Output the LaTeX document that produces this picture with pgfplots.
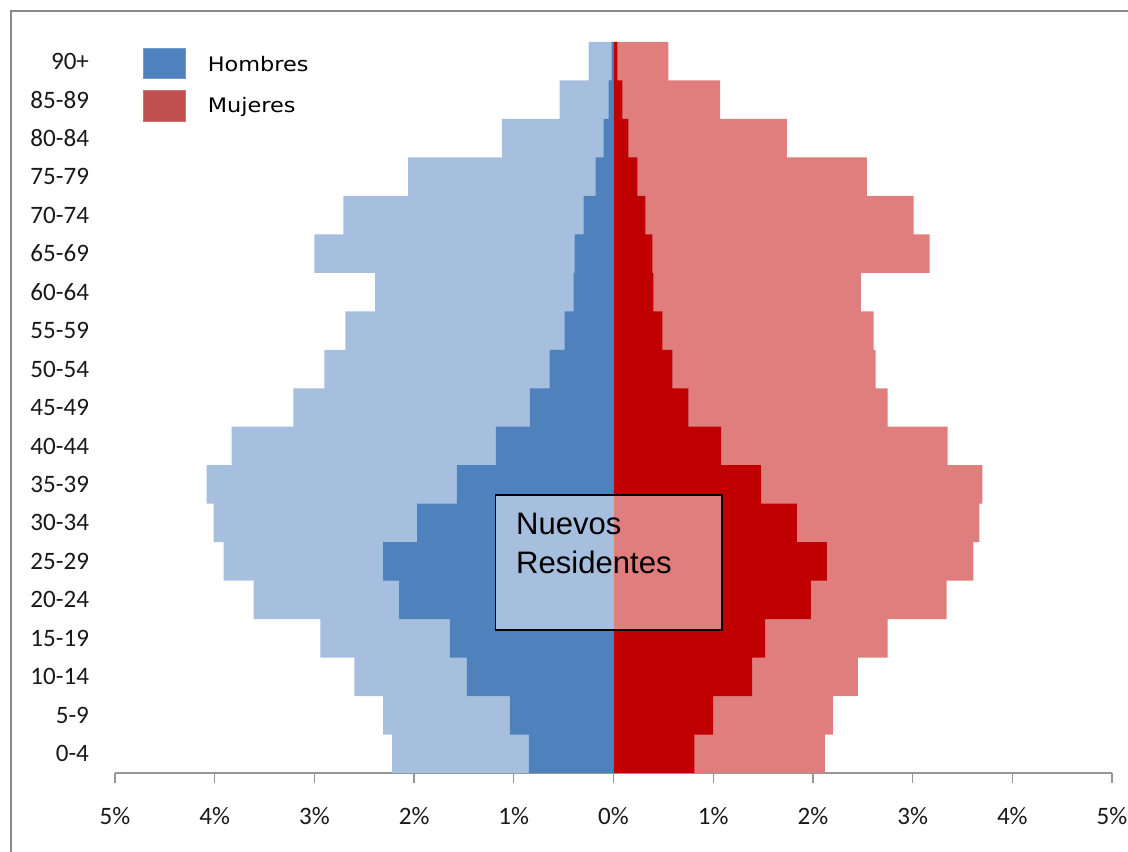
\documentclass[border=0pt]{standalone}
\usepackage{fontspec}
\setmainfont{Carlito}
\newfontfamily\legfont{DejaVu Sans}
\newfontfamily\arialfont{Liberation Sans}
\usepackage{pgfplots}
\pgfplotsset{compat=1.18}
\usepackage{pgfplotstable}
\definecolor{lblue}{RGB}{167,191,222}
\definecolor{dblue}{RGB}{79,129,189}
\definecolor{lred}{RGB}{224,126,126}
\definecolor{dred}{RGB}{192,0,0}
\definecolor{legblue}{RGB}{79,129,189}
\definecolor{legred}{RGB}{192,80,77}
\definecolor{framegray}{RGB}{138,138,138}
\definecolor{axisgray}{RGB}{150,150,150}

\pgfplotstableread{
idx mt    wt   mn    wn
0  -2.22 2.12 -0.85 0.81
1  -2.31 2.20 -1.04 1.00
2  -2.60 2.45 -1.47 1.39
3  -2.94 2.75 -1.64 1.52
4  -3.61 3.34 -2.15 1.98
5  -3.91 3.61 -2.31 2.14
6  -4.01 3.67 -1.97 1.84
7  -4.08 3.70 -1.57 1.48
8  -3.83 3.35 -1.18 1.08
9  -3.21 2.75 -0.84 0.75
10 -2.90 2.63 -0.64 0.59
11 -2.69 2.61 -0.49 0.49
12 -2.39 2.48 -0.40 0.40
13 -3.00 3.17 -0.39 0.39
14 -2.71 3.01 -0.30 0.32
15 -2.06 2.54 -0.18 0.24
16 -1.12 1.74 -0.10 0.15
17 -0.54 1.07 -0.05 0.09
18 -0.25 0.55 -0.02 0.04
}\pyr

\begin{document}
\begin{tikzpicture}[x=1pt,y=1pt]
\useasboundingbox (-86.25,-59.25) rectangle (759.75,579.75);
\draw[framegray, line width=1.5pt] (-78,-80) -- (-78,571.5) -- (800,571.5);
\begin{axis}[
  at={(0pt,0pt)}, anchor=south west,
  scale only axis, width=747.75pt, height=548.25pt,
  xmin=-5, xmax=5, ymin=-0.5, ymax=18.5,
  axis x line*=bottom, axis y line*=left,
  y axis line style={draw=none},
  x axis line style={axisgray, line width=1pt, -},
  ytick={0,...,18},
  yticklabels={0-4,5-9,10-14,15-19,20-24,25-29,30-34,35-39,40-44,45-49,50-54,55-59,60-64,65-69,70-74,75-79,80-84,85-89,90+},
  ytick style={draw=none},
  xtick={-5,...,5},
  xticklabels={5\%,4\%,3\%,2\%,1\%,0\%,1\%,2\%,3\%,4\%,5\%},
  xtick style={axisgray, line width=1pt},
  tick align=outside, major tick length=7.5pt,
  tick label style={font=\fontsize{18.8}{22}\selectfont, text=black!90},
  yticklabel style={xshift=-8.5pt},
  xticklabel style={yshift=-15pt},
  legend image code/.code={\draw[#1] (0pt,-11.6pt) rectangle (31.5pt,11.6pt);},
  legend style={at={(0.0281,0.9928)}, anchor=north west, draw=none, fill=none,
    inner sep=0pt, row sep=8.25pt, column sep=0pt,
    nodes={inner sep=0pt},
    font=\legfont\fontsize{15}{17}\selectfont},
  legend cell align=left,
]
\addplot[xbar, bar width=1, bar shift=0pt, fill=lblue, draw=none, forget plot] table[x=mt,y=idx]{\pyr};
\addplot[xbar, bar width=1, bar shift=0pt, fill=lred, draw=none, forget plot] table[x=wt,y=idx]{\pyr};
\addplot[xbar, bar width=1, bar shift=0pt, fill=dblue, draw=none, forget plot] table[x=mn,y=idx]{\pyr};
\addplot[xbar, bar width=1, bar shift=0pt, fill=dred, draw=none, forget plot] table[x=wn,y=idx]{\pyr};
\addlegendimage{fill=legblue, draw=legblue!80!white}
\addlegendentry{\hspace{16.5pt}\raisebox{-2.5pt}{\scalebox{1.12}[1]{Hombres}}}
\addlegendimage{fill=legred, draw=legred!80!white}
\addlegendentry{\hspace{16.5pt}\scalebox{1.12}[1]{Mujeres}}
\fill[lblue] (axis cs:-1.184,3.217) rectangle (axis cs:0,6.734);
\fill[lred] (axis cs:0,3.217) rectangle (axis cs:1.087,6.734);
\draw[black, line width=1.3pt] (axis cs:-1.184,3.217) rectangle (axis cs:1.087,6.734);
\node[anchor=base west, inner sep=0pt, font=\arialfont\fontsize{23.3}{28}\selectfont] at (axis cs:-0.979,5.705) {Nuevos};
\node[anchor=base west, inner sep=0pt, font=\arialfont\fontsize{23.3}{28}\selectfont] at (axis cs:-0.979,4.691) {Residentes};
\end{axis}
\end{tikzpicture}
\end{document}
